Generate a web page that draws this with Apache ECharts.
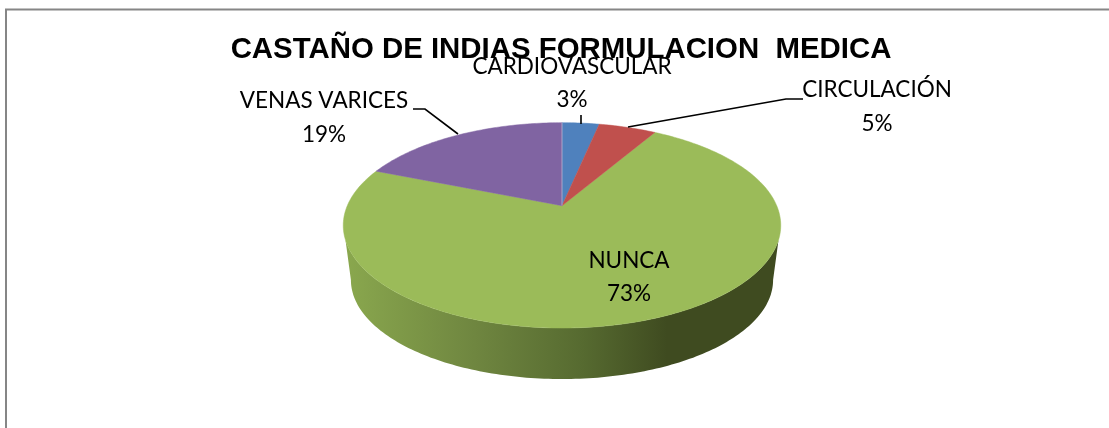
<!DOCTYPE html>
<html><head><meta charset="utf-8">
<script src="https://cdn.jsdelivr.net/npm/echarts@6/dist/echarts.min.js"></script>
<style>html,body{margin:0;padding:0;background:#fff}#c{width:1109px;height:428px}</style>
</head><body><div id="c"></div>
<script>
const chartTitle = 'CASTAÑO DE INDIAS FORMULACION  MEDICA';
const categories = ['CARDIOVASCULAR', 'CIRCULACIÓN', 'NUNCA', 'VENAS VARICES'];
const values = [3.3, 5.1, 72.7, 18.9];
const colors = ['#4F81BD', '#C0504D', '#9BBB59', '#8064A2'];

const geo = {cx: 562, cy: 205.7, c: 214.7, a: 98.9, k: 0.1915, depth: 55.3, bottomScale: 0.965,
  topTangent: 109, bottomTangent: 101};
const labelPos = [
  {x: 572, y1: 67, y2: 100},
  {x: 877, y1: 90, y2: 124},
  {x: 629, y1: 261, y2: 294},
  {x: 324, y1: 101, y2: 135}
];
const leaders = [
  [[581, 115], [581, 124]],
  [[803, 99], [786, 99], [628, 127]],
  null,
  [[413, 109], [425, 109], [458, 134]]
];

function rim(deg, bottom) {
  const t = deg * Math.PI / 180, d = 1 + geo.k * Math.cos(t), s = bottom ? geo.bottomScale : 1;
  return [geo.cx + s * geo.c * Math.sin(t) / d,
          geo.cy + (bottom ? geo.depth : 0) - s * geo.a * Math.cos(t) / d];
}
const total = values.reduce((a, b) => a + b, 0);
let acc = 0;
const arcs = values.map(v => { const r = [acc / total * 360, (acc + v) / total * 360]; acc += v; return r; });

const wallFill = new echarts.graphic.LinearGradient(343, 0, 781, 0, [
  {offset: 0, color: '#8AA84E'}, {offset: 0.3, color: '#6F8640'},
  {offset: 0.55, color: '#566A30'}, {offset: 0.74, color: '#3F4B20'}, {offset: 1, color: '#3F4B20'}
], true);

function range(s, e, lo, hi, bottom) {
  const a = Math.max(s, lo), b = Math.min(e, hi), out = [];
  for (let d = a; d < b; d += 1) out.push(rim(d, bottom));
  if (b > a) out.push(rim(b, bottom));
  return out;
}

function renderItem(params, api) {
  const i = api.value(0), [s, e] = arcs[i], kids = [];
  const top = range(s, e, geo.topTangent, 360 - geo.topTangent, false);
  const bot = range(s, e, geo.bottomTangent, 360 - geo.bottomTangent, true);
  if (top.length && bot.length) {
    kids.push({type: 'polygon', z2: 1, shape: {points: top.concat(bot.reverse())}, style: {fill: wallFill}});
  }
  const pts = [[geo.cx, geo.cy]].concat(range(s, e, 0, 360, false));
  kids.push({type: 'polygon', z2: 2, shape: {points: pts}, style: {fill: colors[i], stroke: colors[i], lineWidth: 0.5}});
  if (i === 3) kids.push({type: 'line', z2: 3, shape: {x1: geo.cx, y1: geo.cy, x2: rim(e)[0], y2: rim(e)[1]},
    style: {stroke: 'rgba(255,255,255,0.4)', lineWidth: 1}});
  if (leaders[i]) kids.push({type: 'polyline', z2: 3, shape: {points: leaders[i]}, style: {fill: 'none', stroke: '#000', lineWidth: 1.6}});
  const font = {fontFamily: 'Lato', fontSize: 22.5, fill: '#000', align: 'center', verticalAlign: 'middle'};
  kids.push({type: 'text', z2: 4, style: Object.assign({text: categories[i], x: labelPos[i].x, y: labelPos[i].y1}, font)});
  kids.push({type: 'text', z2: 4, style: Object.assign({text: Math.round(values[i]) + '%', x: labelPos[i].x, y: labelPos[i].y2}, font)});
  return {type: 'group', children: kids};
}

const chart = echarts.init(document.getElementById('c'), null, {renderer: 'canvas'});
chart.setOption({
  animation: false,
  backgroundColor: '#fff',
  title: {text: chartTitle, left: 556, top: 30, textAlign: 'center',
    textStyle: {fontFamily: 'Liberation Sans', fontWeight: 'bold', fontSize: 29.4, color: '#000'}},
  graphic: [{type: 'rect', z: -1, shape: {x: 6, y: 9.5, width: 1200, height: 500}, style: {fill: 'none', stroke: '#868686', lineWidth: 2}}],
  series: [{type: 'custom', coordinateSystem: 'none', renderItem, data: [[2], [0], [1], [3]]}]
});
</script></body></html>
